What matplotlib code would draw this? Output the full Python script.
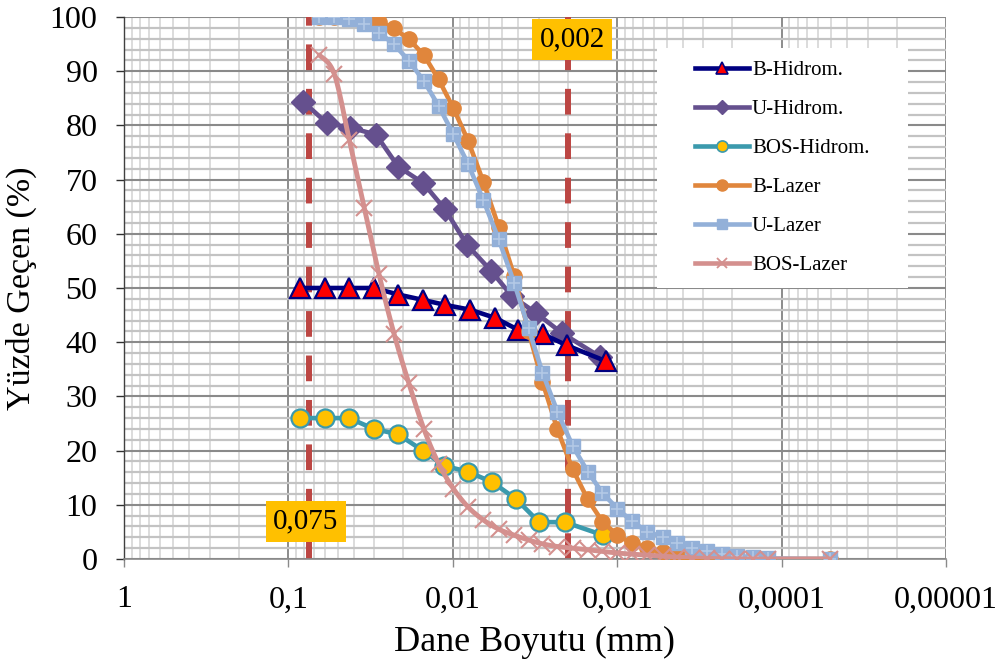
import numpy as np
import matplotlib
matplotlib.use('Agg')
import matplotlib.pyplot as plt
from matplotlib.ticker import FixedLocator, MultipleLocator, LogLocator, NullFormatter
from matplotlib.lines import Line2D
from matplotlib.patches import Rectangle

plt.rcParams['font.family'] = ['Liberation Serif', 'DejaVu Serif']
plt.rcParams['lines.scale_dashes'] = False

# ---------------- data ----------------
b_hid_d = [0.0850, 0.0599, 0.0428, 0.0302, 0.0215, 0.0152, 0.0112, 0.00786,
           0.00554, 0.00401, 0.00283, 0.00202, 0.00117]
b_hid_p = [50.0, 50.0, 50.0, 50.0, 48.8, 47.8, 46.9, 46.0, 44.5, 42.3, 41.5, 39.4, 36.5]

u_hid_d = [0.0815, 0.0582, 0.0422, 0.0293, 0.0215, 0.0152, 0.0112, 0.00820,
           0.00586, 0.00437, 0.00312, 0.00217, 0.00127]
u_hid_p = [84.4, 80.4, 79.6, 78.3, 72.4, 69.4, 64.6, 58.0, 53.2, 48.5, 45.4, 41.7, 37.3]

bos_hid_d = [0.0850, 0.0599, 0.0428, 0.0302, 0.0215, 0.0152, 0.0113, 0.00808,
             0.00578, 0.00413, 0.00299, 0.00208, 0.00122]
bos_hid_p = [26.0, 26.0, 26.0, 24.0, 23.0, 20.0, 17.2, 16.1, 14.2, 11.1, 6.8, 6.8, 4.4]

lazer_d = [0.0649, 0.0526, 0.0426, 0.0345, 0.0281, 0.0228, 0.0185, 0.0150,
           0.0122, 0.00993, 0.00808, 0.00652, 0.00526, 0.00424, 0.00346, 0.00285,
           0.00231, 0.00187, 0.00151, 0.00123, 0.000999, 0.000816, 0.000656,
           0.000529, 0.000433, 0.000351, 0.000284, 0.000230, 0.000187, 0.000150,
           0.000121, 0.0000508]
b_laz_p = [100, 100, 100, 99.9, 99.1, 97.9, 95.9, 93.0, 88.5, 83.2, 77.2, 69.6,
           61.3, 52.3, 42.0, 32.7, 23.9, 16.6, 11.0, 6.9, 4.4, 2.9, 2.0, 1.2, 0.7,
           0.3, 0.1, 0.1, 0.05, 0, 0, 0]
u_laz_p = [100, 100, 99.6, 98.7, 97.1, 95.0, 91.9, 88.2, 83.6, 78.4, 72.9, 66.2,
           59.0, 51.0, 42.6, 34.4, 27.2, 20.9, 16.1, 12.2, 9.3, 7.0, 5.0, 4.1, 2.9,
           2.0, 1.5, 1.0, 0.6, 0.3, 0.1, 0]
bos_laz_p = [93.0, 89.5, 77.3, 64.7, 52.5, 41.6, 32.4, 24.0, 17.6, 13.0, 9.6, 7.2,
             5.5, 4.4, 3.5, 2.8, 2.3, 2.0, 1.7, 1.4, 1.1, 0.9, 0.7, 0.5, 0.35, 0.2,
             0.1, 0.05, 0, 0, 0, 0]

limit_d = [0.075, 0.002]
limit_labels = ['0,075', '0,002']

x_ticks = [1, 0.1, 0.01, 0.001, 0.0001, 0.00001]
x_ticklabels = ['1', '0,1', '0,01', '0,001', '0,0001', '0,00001']
y_ticks = list(range(0, 101, 10))

# ---------------- helpers ----------------
def smooth(xs, ys, n=24):
    P = np.column_stack([np.log10(xs), ys]).astype(float)
    out = []
    for i in range(len(P) - 1):
        p0 = P[i - 1] if i > 0 else P[i]
        p1, p2 = P[i], P[i + 1]
        p3 = P[i + 2] if i + 2 < len(P) else P[i + 1]
        c1 = p1 + (p2 - p0) / 6.0
        c2 = p2 - (p3 - p1) / 6.0
        t = np.linspace(0, 1, n)[:, None]
        B = ((1 - t) ** 3) * p1 + 3 * ((1 - t) ** 2) * t * c1 + 3 * (1 - t) * t ** 2 * c2 + t ** 3 * p2
        out.append(B if i == 0 else B[1:])
    B = np.vstack(out)
    return 10 ** B[:, 0], B[:, 1]

# ---------------- figure ----------------
fig = plt.figure(figsize=(10.03, 6.66), dpi=100)
ax = fig.add_axes([124 / 1003, 107 / 666, 822 / 1003, 542 / 666])
ax.set_xscale('log')
ax.set_xlim(1, 1e-5)
ax.set_ylim(0, 100)

ax.xaxis.set_major_locator(FixedLocator(x_ticks))
ax.set_xticklabels(x_ticklabels)
ax.xaxis.set_minor_locator(LogLocator(base=10, subs=np.arange(2, 10), numticks=20))
ax.xaxis.set_minor_formatter(NullFormatter())
ax.yaxis.set_major_locator(FixedLocator(y_ticks))
ax.yaxis.set_minor_locator(MultipleLocator(2))

ax.grid(which='major', axis='x', color='#8C8C8C', lw=1.4)
ax.grid(which='minor', axis='x', color='#DCDCDC', lw=1.4)
ax.grid(which='major', axis='y', color='#8A8A8A', lw=1.5)
ax.grid(which='minor', axis='y', color='#C3C3C3', lw=1.6)
ax.set_axisbelow(True)

for s in ['top', 'right']:
    ax.spines[s].set_visible(False)
ax.spines['left'].set_color('#404040')
ax.spines['left'].set_linewidth(1.0)
ax.spines['bottom'].set_color('#8A8A8A')
ax.spines['bottom'].set_linewidth(1.2)

ax.tick_params(axis='y', which='major', direction='out', length=6, width=1.0,
               color='#303030', labelsize=23, pad=13)
ax.tick_params(axis='x', which='major', direction='out', length=6, width=1.0,
               color='#8A8A8A', labelsize=23, pad=13)
ax.tick_params(which='minor', length=0)

ax.set_xlabel('Dane Boyutu (mm)', fontsize=26, labelpad=8)
ax.set_ylabel('Yüzde Geçen (%)', fontsize=24.5, labelpad=9)

# limit lines
for d in limit_d:
    ax.plot([d, d], [0, 100], color='#BC4643', lw=4.3, dashes=(18.5, 13.5),
            solid_capstyle='butt', dash_capstyle='butt', zorder=2)

# series
ax.plot(u_hid_d, u_hid_p, color='#65508E', lw=3.3, marker='D', ms=12,
        mfc='#65508E', mec='#65508E', zorder=3)
ax.plot(b_hid_d, b_hid_p, color='#000080', lw=3.3, marker='^', ms=14,
        mfc='#FF0000', mec='#000080', mew=1.6, zorder=3)
ax.plot(bos_hid_d, bos_hid_p, color='#3B9AAD', lw=3.3, marker='o', ms=13,
        mfc='#FFC000', mec='#3B9AAD', mew=1.6, zorder=3)
ax.plot(lazer_d, b_laz_p, color='#E0863C', lw=3.3, marker='o', ms=11,
        mfc='#E0863C', mec='#E0863C', zorder=4)
ax.plot(lazer_d, u_laz_p, color='#93B0D8', lw=3.3, marker='s', ms=10,
        mfc='#93B0D8', mec='#93B0D8', zorder=5)
ax.plot(lazer_d, u_laz_p, ls='none', marker='+', ms=9, mew=1.2,
        color='#B3C9E6', zorder=5)
sx, sy = smooth(lazer_d, bos_laz_p)
ax.plot(sx, sy, color='#D4908E', lw=3.5, zorder=6, solid_capstyle='round')
ax.plot(lazer_d, bos_laz_p, ls='none', marker='x', ms=12, mew=1.5,
        color='#D4908E', zorder=6)

# labels on limit lines
ax.text(0.0781, 6.9, limit_labels[0], fontsize=21, ha='center', va='center',
        bbox=dict(boxstyle='square,pad=0.25', fc='#FFC000', ec='none'), zorder=8)
ax.text(0.00188, 95.8, limit_labels[1], fontsize=21, ha='center', va='center',
        bbox=dict(boxstyle='square,pad=0.25', fc='#FFC000', ec='none'), zorder=8)

# legend background box
ax.add_patch(Rectangle((657 / 1003, 1 - 288 / 666), 251 / 1003, 240 / 666,
                       transform=fig.transFigure, facecolor='white',
                       edgecolor='none', zorder=8.5, clip_on=False))

# legend
h = [
    Line2D([], [], color='#000080', lw=3.3, marker='^', ms=8, mfc='#FF0000', mec='#000080', mew=1.2),
    Line2D([], [], color='#65508E', lw=3.3, marker='D', ms=7, mfc='#65508E', mec='#65508E'),
    Line2D([], [], color='#3B9AAD', lw=3.3, marker='o', ms=8, mfc='#FFC000', mec='#3B9AAD', mew=1.2),
    Line2D([], [], color='#E0863C', lw=3.3, marker='o', ms=8, mfc='#E0863C', mec='#E0863C'),
    Line2D([], [], color='#93B0D8', lw=3.3, marker='s', ms=7, mfc='#93B0D8', mec='#93B0D8'),
    Line2D([], [], color='#D4908E', lw=3.3, marker='x', ms=7, mew=1.3),
]
labels = ['B-Hidrom.', 'U-Hidrom.', 'BOS-Hidrom.', 'B-Lazer', 'U-Lazer', 'BOS-Lazer']
leg = ax.legend(h, labels, loc='center', bbox_to_anchor=(782 / 1003, 1 - 168 / 666),
                bbox_transform=fig.transFigure, fontsize=15, frameon=False,
                handlelength=2.6, handletextpad=0.15, labelspacing=0.93,
                borderpad=0.9)
leg.set_zorder(9)

fig.savefig('out.png', dpi=100)
